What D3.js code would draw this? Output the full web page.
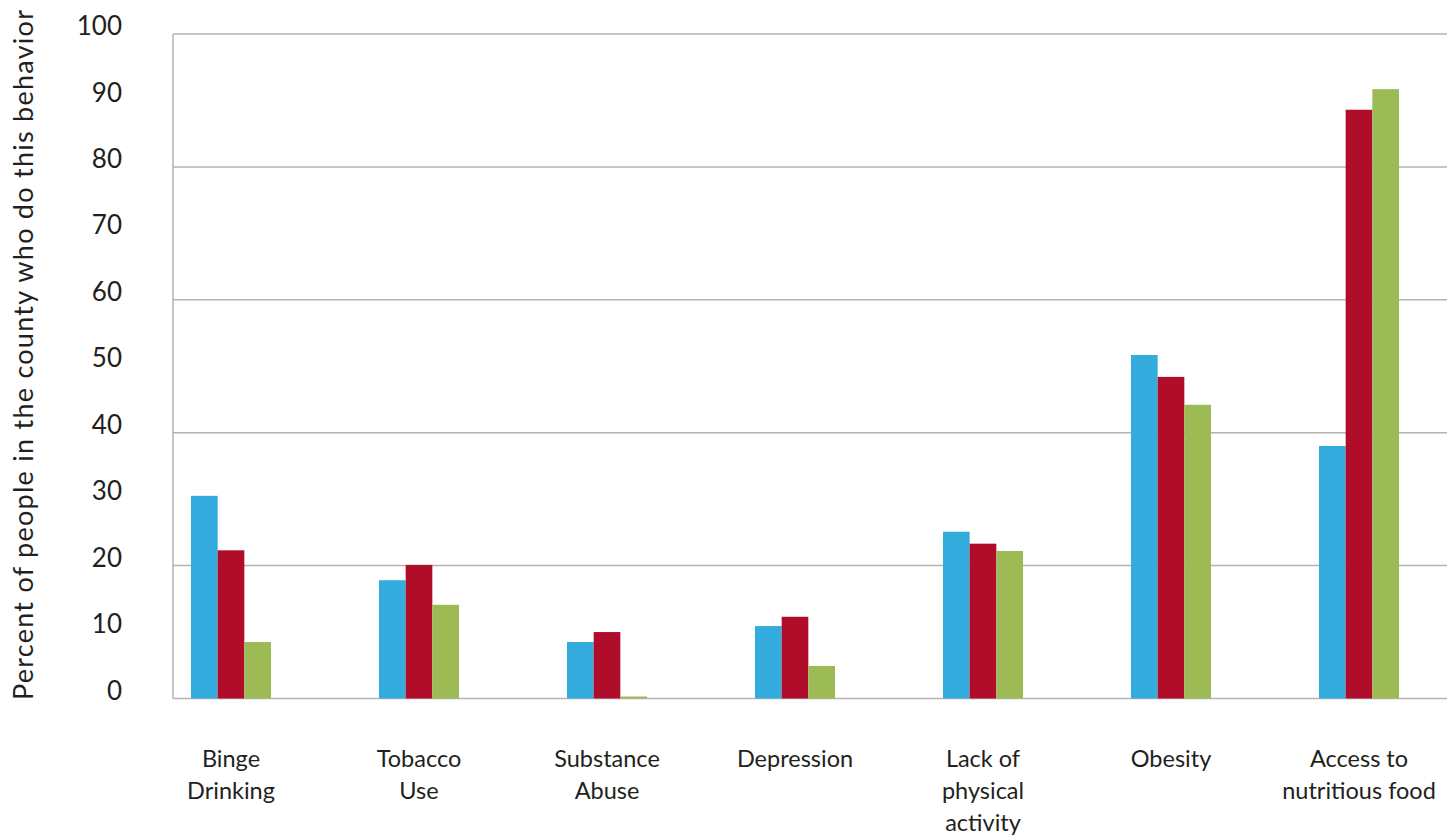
<!DOCTYPE html>
<html>
<head>
<meta charset="utf-8">
<script src="https://cdn.jsdelivr.net/npm/d3@7"></script>
<style>
  body { margin: 0; background: #fff; }
  text { font-family: Lato, "Open Sans", sans-serif; fill: #231f20; }
</style>
</head>
<body>
<div id="chart"></div>
<script>
// Chart data
var categories = [
	["Binge", "Drinking"],
	["Tobacco", "Use"],
	["Substance", "Abuse"],
	["Depression"],
	["Lack of", "physical", "activity"],
	["Obesity"],
	["Access to", "nutritious food"]
];
var seriesNames = ["A", "B", "C"];
var seriesA = [30.5, 17.8, 8.5, 10.9, 25.1, 51.7, 38.0];
var seriesB = [22.3, 20.1, 10.0, 12.3, 23.3, 48.4, 88.6];
var seriesC = [8.5, 14.1, 0.3, 4.9, 22.2, 44.2, 91.7];
var tickLabels = [0, 10, 20, 30, 40, 50, 60, 70, 80, 90, 100];
var gridValues = [0, 20, 40, 60, 80, 100];
var colors = ["#34abdd", "#b00d2a", "#9dbb55"];

var width = 1456, height = 835;

var svg = d3.select("#chart").append("svg")
	.attr("width", width)
	.attr("height", height);

var catKeys = categories.map(function (d) { return d.join(" "); });

// Scales
var x0 = d3.scaleBand().domain(catKeys).range([137, 1453])
	.paddingInner(0.5745).paddingOuter(0.5745 / 2);
var x1 = d3.scaleBand().domain(seriesNames).range([0, x0.bandwidth()]);
var y = d3.scaleLinear().domain([0, 100]).range([698.5, 34]);

// Gridlines
svg.append("g").selectAll("line")
	.data(gridValues)
	.enter().append("line")
	.attr("x1", 173).attr("x2", 1447)
	.attr("y1", function (d) { return y(d); })
	.attr("y2", function (d) { return y(d); })
	.attr("stroke", "#b3b3b3")
	.attr("stroke-width", 1.5);

// Left axis line
svg.append("line")
	.attr("x1", 173).attr("x2", 173)
	.attr("y1", y(100)).attr("y2", y(0))
	.attr("stroke", "#b3b3b3")
	.attr("stroke-width", 1.5);

// Tick labels
svg.append("g").selectAll("text")
	.data(tickLabels)
	.enter().append("text")
	.attr("x", 122)
	.attr("y", function (d) { return y(d) - 8; })
	.attr("dy", "0.35em")
	.attr("text-anchor", "end")
	.style("font-size", "26px")
	.text(function (d) { return d; });

// Bars
var rows = categories.map(function (c, i) {
	return { key: catKeys[i], values: [seriesA[i], seriesB[i], seriesC[i]] };
});

var groups = svg.append("g").selectAll("g")
	.data(rows)
	.enter().append("g")
	.attr("transform", function (d) { return "translate(" + x0(d.key) + ",0)"; });

groups.selectAll("rect")
	.data(function (d) {
		return d.values.map(function (v, j) { return { s: seriesNames[j], v: v, j: j }; });
	})
	.enter().append("rect")
	.attr("x", function (d) { return x1(d.s); })
	.attr("width", x1.bandwidth())
	.attr("y", function (d) { return y(d.v); })
	.attr("height", function (d) { return y(0) - y(d.v); })
	.attr("fill", function (d) { return colors[d.j]; });

// Category labels
var labels = svg.append("g").selectAll("text")
	.data(categories)
	.enter().append("text")
	.attr("text-anchor", "middle")
	.attr("x", function (d, i) { return x0(catKeys[i]) + x0.bandwidth() / 2; })
	.attr("y", 767)
	.style("font-size", "23.5px");

labels.selectAll("tspan")
	.data(function (d) { return d; })
	.enter().append("tspan")
	.attr("x", function () { return d3.select(this.parentNode).attr("x"); })
	.attr("dy", function (d, i) { return i === 0 ? 0 : 32; })
	.text(function (d) { return d; });

// Y axis title
svg.append("text")
	.attr("transform", "translate(33,355) rotate(-90)")
	.attr("text-anchor", "middle")
	.attr("textLength", 690)
	.attr("lengthAdjust", "spacing")
	.style("font-size", "27px")
	.text("Percent of people in the county who do this behavior");
</script>
</body>
</html>
